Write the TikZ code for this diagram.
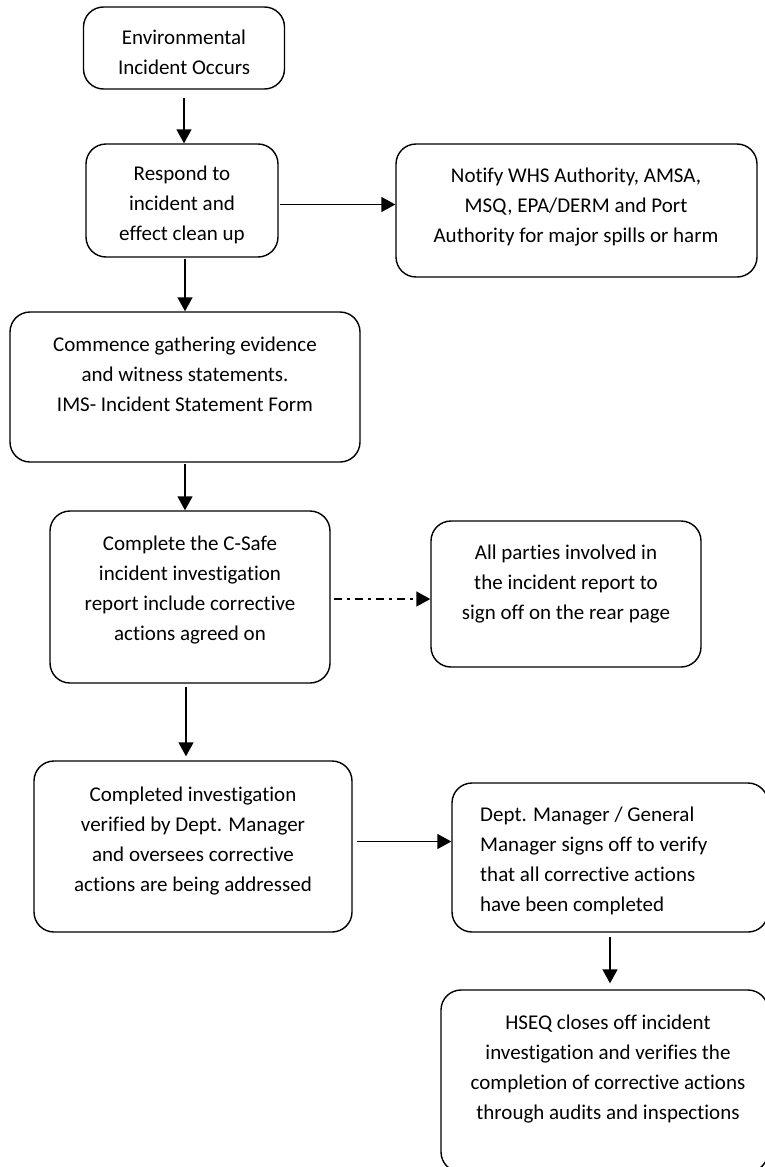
\documentclass[tikz,border=0pt]{standalone}
\usepackage{fontspec}
\setmainfont{Carlito}[Ligatures=NoCommon]
\usetikzlibrary{arrows.meta}
\tikzset{
  box/.style={draw=black, line width=1.4pt, rounded corners=20pt, inner sep=0pt},
  txt/.style={align=center, inner sep=0pt, font=\fontsize{21}{30}\selectfont},
  arr/.style={line width=1.5pt, -{Triangle[length=14pt,width=15pt]}},
}
\begin{document}
\begin{tikzpicture}[x=1pt,y=-1pt]
\useasboundingbox (0,0) rectangle (765,1167);
\clip (0,0) rectangle (765,1167);
\fill[white] (0,0) rectangle (765,1167);
% boxes
\node[box, minimum width=201pt, minimum height=82pt] (b1) at (184,48) {};
\node[box, minimum width=192pt, minimum height=113pt] (b2) at (182,200.5) {};
\node[box, minimum width=361pt, minimum height=133pt] (b3) at (576.5,210.5) {};
\node[box, minimum width=350pt, minimum height=150pt] (b4) at (185,387) {};
\node[box, minimum width=280pt, minimum height=172pt] (b5) at (190,597) {};
\node[box, minimum width=270pt, minimum height=146pt] (b6) at (566,594) {};
\node[box, minimum width=318pt, minimum height=171pt] (b7) at (193,846.5) {};
\node[box, minimum width=316pt, minimum height=149pt] (b8) at (610,857.5) {};
\node[box, minimum width=327pt, minimum height=182pt] (b9) at (604.5,1081) {};
% texts
\node[txt] (t1) at (184,52) {Environmental\\Incident Occurs};
\node[txt] (t2) at (182,205) {Respond to\\incident and\\effect clean up};
\node[txt] (t3) at (576,207) {Notify WHS Authority, AMSA,\\MSQ, EPA/DERM and Port\\Authority for major spills or harm};
\node[txt] (t4) at (185,374) {Commence gathering evidence\\and witness statements.\\IMS- Incident Statement Form};
\node[txt] (t5) at (190,590) {Complete the C-Safe\\incident investigation\\report include corrective\\actions agreed on};
\node[txt] (t6) at (566,584) {All parties involved in\\the incident report to\\sign off on the rear page};
\node[txt] (t7) at (193,841) {Completed investigation\\verified by Dept. Manager\\and oversees corrective\\actions are being addressed};
\node[txt, align=left, anchor=west] (t8) at (480,861) {Dept. Manager / General\\Manager signs off to verify\\that all corrective actions\\have been completed};
\node[txt] (t9) at (608,1069) {HSEQ closes off incident\\investigation and verifies the\\completion of corrective actions\\through audits and inspections};
% connectors
\draw[arr, shorten <=8pt] (b1.south) -- (b1.south |- b2.north);
\draw[arr, shorten <=1pt] ([yshift=-4pt]b2.east) -- ([yshift=-4pt]b2.east -| b3.west);
\draw[arr, shorten <=1pt] ([xshift=3pt]b2.south) -- ([xshift=3pt]b2.south |- b4.north);
\draw[arr, shorten <=1pt] (b4.south) -- (b4.south |- b5.north);
\draw[arr, shorten <=3pt, dash pattern=on 8pt off 5pt on 3pt off 5pt] ([yshift=-2pt]b5.east) -- ([yshift=-2pt]b5.east -| b6.west);
\draw[arr, shorten <=3pt, shorten >=4pt] ([xshift=-4pt]b5.south) -- ([xshift=-4pt]b5.south |- b7.north);
\draw[arr, shorten <=4pt] ([yshift=5pt]b7.east) -- ([yshift=5pt]b7.east -| b8.west);
\draw[arr, shorten <=4pt, shorten >=6pt] (b8.south) -- (b8.south |- b9.north);
\end{tikzpicture}
\end{document}
